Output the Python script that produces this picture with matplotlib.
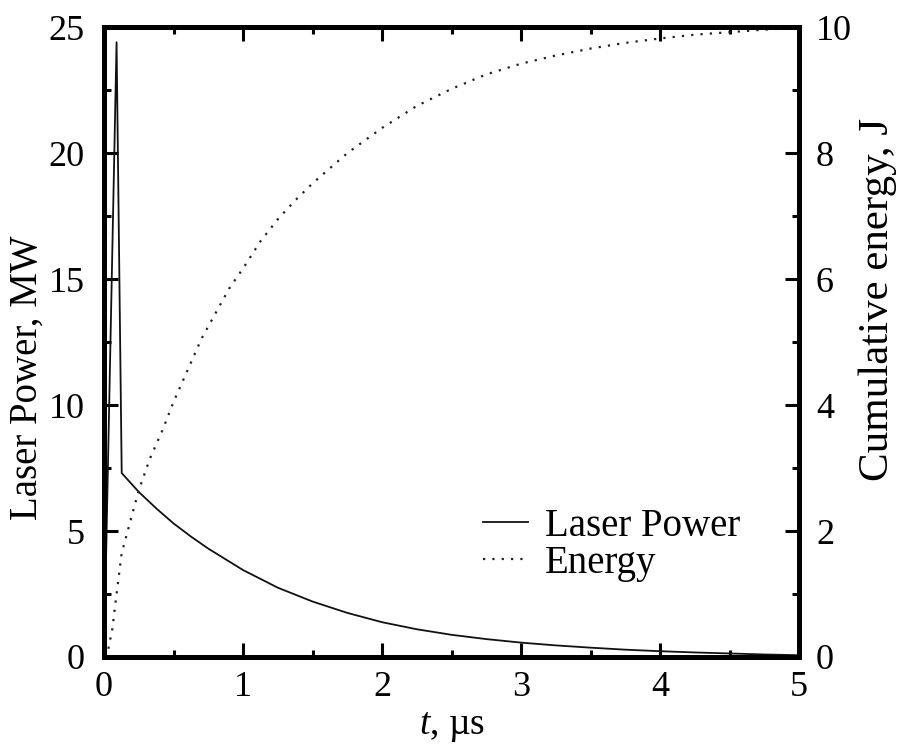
import numpy as np
import matplotlib.pyplot as plt

plt.rcParams['font.family'] = ['Liberation Serif', 'DejaVu Serif']
plt.rcParams['mathtext.fontset'] = 'custom'
plt.rcParams['mathtext.it'] = 'Liberation Serif:italic'
plt.rcParams['mathtext.rm'] = 'Liberation Serif'

# laser power pulse (MW)
t_power = [0, 0.09, 0.127, 0.25, 0.375, 0.5, 0.625, 0.75, 1.0, 1.25, 1.5, 1.75, 2.0,
           2.25, 2.5, 2.75, 3.0, 3.25, 3.5, 3.75, 4.0, 4.25, 4.5, 4.75, 5.0]
power = [0, 24.4, 7.3, 6.55, 5.9, 5.3, 4.78, 4.3, 3.45, 2.75, 2.2, 1.75, 1.38,
         1.1, 0.88, 0.71, 0.57, 0.46, 0.37, 0.29, 0.23, 0.18, 0.14, 0.1, 0.07]

# cumulative energy (J)
t_energy = [0, 0.03, 0.06, 0.09, 0.127, 0.17, 0.25, 0.33, 0.42, 0.5, 0.6, 0.7, 0.8,
            0.9, 1.0, 1.125, 1.25, 1.375, 1.5, 1.75, 2.0, 2.25, 2.5, 2.75, 3.0,
            3.25, 3.5, 3.75, 4.0, 4.25, 4.5, 4.75, 5.0]
energy = [0, 0.12, 0.45, 1.0, 1.65, 2.0, 2.65, 3.15, 3.6, 4.05, 4.55, 5.05, 5.45,
          5.85, 6.17, 6.6, 6.95, 7.25, 7.52, 8.0, 8.4, 8.75, 9.02, 9.25, 9.42,
          9.55, 9.66, 9.75, 9.82, 9.88, 9.92, 9.96, 9.99]

fs = 26
fig = plt.figure(figsize=(8.97, 7.53), dpi=100)
ax = fig.add_axes([0.116, 0.1275, 0.775, 0.8365])
ax2 = ax.twinx()

l1, = ax.plot(t_power, power, color='#111111', lw=1.3, label='Laser Power')
l2, = ax2.plot(t_energy, energy, color='#222222', lw=1.6, ls=(0, (1, 3.2)), label='Energy')

ax.set_xlim(0, 5)
ax.set_ylim(0, 25)
ax2.set_ylim(0, 10)
ax.set_xticks([0, 1, 2, 3, 4, 5])
ax.set_xticks(np.arange(0.5, 5, 1), minor=True)
ax.set_yticks([0, 5, 10, 15, 20, 25])
ax.set_yticks([2.5, 7.5, 12.5, 17.5, 22.5], minor=True)
ax2.set_yticks([0, 2, 4, 6, 8, 10])
ax2.set_yticks([1, 3, 5, 7, 9], minor=True)

for a in (ax, ax2):
    for s in a.spines.values():
        s.set_linewidth(3.6)
    a.tick_params(which='major', direction='in', length=10, width=2.2, labelsize=fs, pad=10)
    a.tick_params(which='minor', direction='in', length=5, width=2.2)
ax.tick_params(axis='x', which='both', top=True)
ax.tick_params(axis='y', pad=14)
ax2.tick_params(axis='y', pad=12)

ax.set_xlabel('$t$, µs', fontsize=27, labelpad=4)
ax.set_ylabel('Laser Power, MW', fontsize=28)
ax.yaxis.set_label_coords(-0.084, 0.443)
ax2.set_ylabel('Cumulative energy, J', fontsize=31)
ax2.yaxis.set_label_coords(1.085, 0.567)

ax2.legend([l1, l2], ['Laser Power', 'Energy'], loc='center left',
           bbox_to_anchor=(0.545, 0.178), frameon=False, fontsize=28,
           handlelength=1.16, handletextpad=0.44, labelspacing=0.0,
           borderpad=0, borderaxespad=0)

fig.savefig('out.png', dpi=100)
